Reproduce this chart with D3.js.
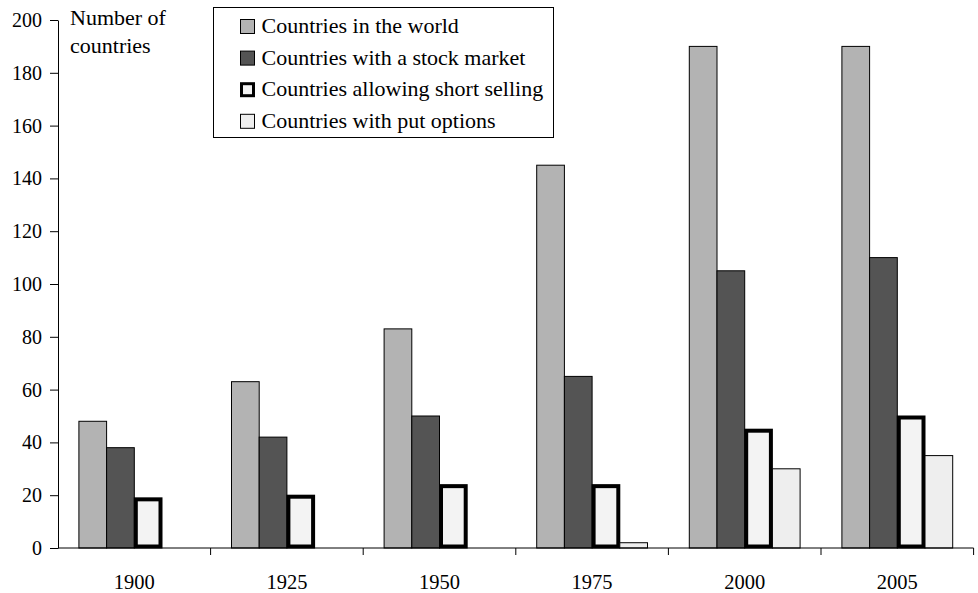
<!DOCTYPE html>
<html>
<head>
<meta charset="utf-8">
<script src="https://cdn.jsdelivr.net/npm/d3@7"></script>
<style>
  body { margin: 0; background: #fff; }
  svg { font-family: "Liberation Serif", "Times New Roman", serif; }
</style>
</head>
<body>
<svg width="978" height="593"></svg>
<script>
const years = ["1900", "1925", "1950", "1975", "2000", "2005"];
const seriesNames = [
  "Countries in the world",
  "Countries with a stock market",
  "Countries allowing short selling",
  "Countries with put options"
];
const worldCount = [48, 63, 83, 145, 190, 190];
const stockMarket = [38, 42, 50, 65, 105, 110];
const shortSelling = [19, 20, 24, 24, 45, 50];
const putOptions = [0, 0, 0, 2, 30, 35];
const yTicks = [0, 20, 40, 60, 80, 100, 120, 140, 160, 180, 200];

const allSeries = [worldCount, stockMarket, shortSelling, putOptions];
const fills = ["#b3b3b3", "#545454", "#f3f3f3", "#eeeeee"];
const strokeW = [1, 1, 4, 1];

const margin = { top: 20, right: 5, bottom: 45, left: 58 },
      width = 973.6 - margin.left,
      height = 548 - margin.top;

const svg = d3.select("svg")
  .append("g")
  .attr("transform", `translate(${margin.left},${margin.top})`);

const x = d3.scaleBand().domain(years).range([0, width]).padding(0);
const xi = d3.scaleBand().domain(d3.range(4)).range([20.9, x.bandwidth() - 20.9]).padding(0);
const y = d3.scaleLinear().domain([0, 200]).range([height, 0]);

// bars
years.forEach((yr, i) => {
  const g = svg.append("g").attr("transform", `translate(${x(yr)},0)`);
  allSeries.forEach((s, k) => {
    const v = s[i];
    if (v <= 0) return;
    const sw = strokeW[k];
    const inset = sw > 1 ? sw / 2 - 0.5 : 0;
    g.append("rect")
      .attr("x", xi(k) + inset)
      .attr("y", y(v) + inset)
      .attr("width", xi.bandwidth() - 2 * inset)
      .attr("height", y(0) - y(v) - 2 * inset)
      .attr("fill", fills[k])
      .attr("stroke", "#000")
      .attr("stroke-width", sw);
  });
});

// y axis
const yAxis = svg.append("g")
  .call(d3.axisLeft(y).tickValues(yTicks).tickSize(8).tickPadding(8).tickSizeOuter(0));
yAxis.select(".domain").attr("stroke", "#000");
yAxis.selectAll("text").attr("font-size", 20).attr("font-family", "Liberation Serif").attr("fill", "#000");

// x axis
const xAxis = svg.append("g")
  .attr("transform", `translate(0,${height})`)
  .call(d3.axisBottom(x).tickSize(0).tickPadding(26));
xAxis.select(".domain").remove();
xAxis.selectAll("text").attr("font-size", 20.5).attr("font-family", "Liberation Serif").attr("fill", "#000");
svg.append("line")
  .attr("x1", 0).attr("x2", width)
  .attr("y1", height).attr("y2", height)
  .attr("stroke", "#000");
svg.append("g").selectAll("line")
  .data(years)
  .join("line")
  .attr("x1", d => x(d) + x.bandwidth()).attr("x2", d => x(d) + x.bandwidth())
  .attr("y1", height).attr("y2", height + 7)
  .attr("stroke", "#000");

// axis title
const title = svg.append("text")
  .attr("x", 12).attr("y", 5)
  .attr("font-size", 22)
  .attr("fill", "#000");
title.append("tspan").attr("x", 12).attr("dy", 0).text("Number of");
title.append("tspan").attr("x", 12).attr("dy", 28).text("countries");

// legend
const leg = svg.append("g").attr("transform", `translate(${213 - margin.left},${7 - margin.top})`);
leg.append("rect")
  .attr("x", 0.5).attr("y", 0.5)
  .attr("width", 340).attr("height", 130)
  .attr("fill", "#fff").attr("stroke", "#000");
seriesNames.forEach((name, k) => {
  const base = 26 + k * 31.6;
  const sw = strokeW[k];
  const big = sw > 1;
  leg.append("rect")
    .attr("x", 27.5 + (big ? 1 : 0)).attr("y", base - 13.5 + (big ? 1 : 0))
    .attr("width", 14 - (big ? 2 : 0)).attr("height", 14 - (big ? 2 : 0))
    .attr("fill", fills[k])
    .attr("stroke", "#000")
    .attr("stroke-width", big ? 3 : 1);
  leg.append("text")
    .attr("x", 48.5).attr("y", base)
    .attr("font-size", 22)
    .attr("fill", "#000")
    .text(name);
});
</script>
</body>
</html>
